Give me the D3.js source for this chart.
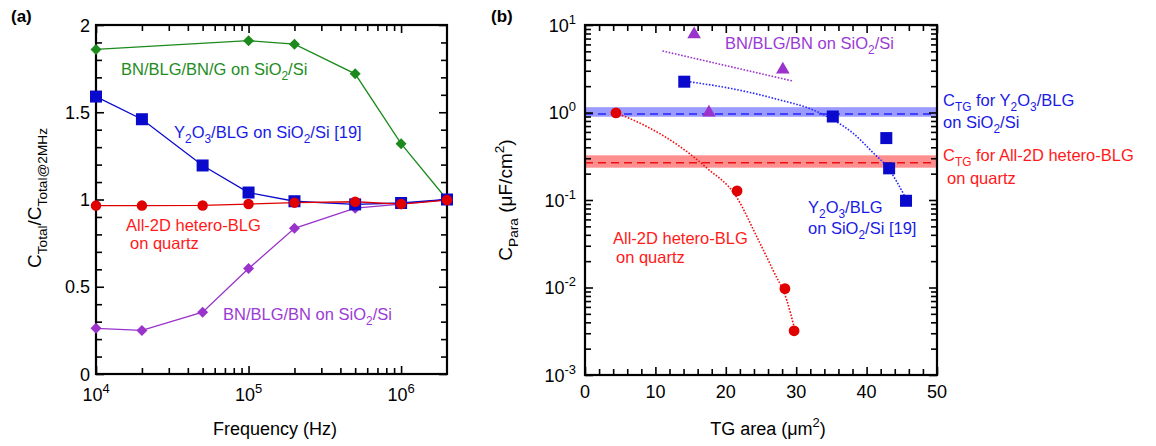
<!DOCTYPE html>
<html>
<head>
<meta charset="utf-8">
<script src="https://cdn.jsdelivr.net/npm/d3@7"></script>
<style>
  html, body { margin: 0; padding: 0; background: #fff; }
  svg { display: block; font-family: "Liberation Sans", Arial, Helvetica, sans-serif; }
</style>
</head>
<body>
<svg id="fig" width="1156" height="446"></svg>
<script>
// ---------- Panel (a): normalised total capacitance vs frequency ----------
const freqs      = [1e4, 2e4, 5e4, 1e5, 2e5, 5e5, 1e6, 2e6];
const freqsGreen = [1e4, 1e5, 2e5, 5e5, 1e6, 2e6];
const ratioBnBlgBnG = [1.86, 1.91, 1.89, 1.72, 1.32, 1.0];
const ratioY2o3Blg  = [1.59, 1.46, 1.195, 1.04, 0.99, 0.972, 0.98, 1.0];
const ratioAll2d    = [0.965, 0.965, 0.966, 0.974, 0.982, 0.987, 0.974, 0.997];
const ratioBnBlgBn  = [0.262, 0.25, 0.354, 0.604, 0.835, 0.95, 0.974, 1.0];
const freqTickExps  = [4, 5, 6];
const ratioTicks    = [0, 0.5, 1, 1.5, 2];
const ratioTickText = ["0", "0.5", "1", "1.5", "2"];

// ---------- Panel (b): parasitic capacitance vs top-gate area ----------
const areaBnBlgBn = [15.5, 28.1, 17.6];
const cparaBnBlgBn = [7.8, 3.1, 1.0];
const areaY2o3 = [14.1, 35.2, 42.8, 43.2, 45.6];
const cparaY2o3 = [2.25, 0.9, 0.51, 0.23, 0.098];
const areaAll2d = [4.4, 21.6, 28.4, 29.7];
const cparaAll2d = [0.99, 0.127, 0.0097, 0.0032];

// trend curves (dotted)
const trendBnX = [11.0, 29.5];
const trendBnY = [5.05, 2.29];
const trendY2o3X = [14.0, 20.6, 27.7, 32.4, 35.3, 38.1, 41.0, 42.9, 45.7];
const trendY2o3Y = [2.29, 1.89, 1.39, 1.07, 0.82, 0.578, 0.342, 0.24, 0.1];
const trendAll2dX = [4.4, 8.8, 13.5, 17.3, 21.5, 24.4, 26.7, 28.65, 29.8];
const trendAll2dY = [0.99, 0.69, 0.407, 0.232, 0.109, 0.038, 0.0158, 0.0072, 0.0033];

// top-gate capacitance bands: [Y2O3/BLG, All-2D]
const ctgCenter = [0.96, 0.267];
const ctgLow    = [0.895, 0.234];
const ctgHigh   = [1.15, 0.324];

const areaTicks = [0, 10, 20, 30, 40, 50];
const cparaTickExps = [-3, -2, -1, 0, 1];

// ---------- colours ----------
const GREEN = "#1c8a1c", BLUE = "#0a0acc", RED = "#e00000", PURPLE = "#9a32cc";
const BLUE_TXT = "#1a1ae6", RED_TXT = "#ff1a1a", PURPLE_TXT = "#9b3ad6", GREEN_TXT = "#1e8c1e";

const svg = d3.select("#fig");

// writes text made of plain / subscript / superscript runs
function rich(g, x, y, parts, size, color, anchor, rotate) {
  const t = g.append("text")
    .attr("x", x).attr("y", y)
    .attr("font-size", size)
    .attr("fill", color)
    .attr("text-anchor", anchor || "start");
  if (rotate) t.attr("transform", `rotate(${rotate},${x},${y})`);
  let shift = 0;
  parts.forEach(p => {
    const [txt, mode] = Array.isArray(p) ? p : [p, ""];
    let target = 0, fs = size;
    if (mode === "sub") { target = size * 0.3; fs = size * 0.72; }
    if (mode === "sup") { target = -size * 0.42; fs = size * 0.72; }
    t.append("tspan")
      .attr("dy", target - shift)
      .attr("font-size", fs)
      .text(txt);
    shift = target;
  });
  return t;
}

// inward ticks on all four sides of a frame
function frameTicks(g, x, y, xMajor, xMinor, yMajor, yMinor, majLen, minLen) {
  const [x0, x1] = x.range(), [y0, y1] = y.range();
  const h = (vals, len) => {
    g.append("g").attr("transform", `translate(0,${y0})`)
      .call(d3.axisBottom(x).tickValues(vals).tickSize(-len).tickFormat(""));
    g.append("g").attr("transform", `translate(0,${y1})`)
      .call(d3.axisTop(x).tickValues(vals).tickSize(-len).tickFormat(""));
  };
  const v = (vals, len) => {
    g.append("g").attr("transform", `translate(${x0},0)`)
      .call(d3.axisLeft(y).tickValues(vals).tickSize(-len).tickFormat(""));
    g.append("g").attr("transform", `translate(${x1},0)`)
      .call(d3.axisRight(y).tickValues(vals).tickSize(-len).tickFormat(""));
  };
  h(xMajor, majLen); h(xMinor, minLen); v(yMajor, majLen); v(yMinor, minLen);
  g.selectAll(".domain").remove();
  g.selectAll(".tick line").attr("stroke", "#000").attr("stroke-width", 1.6);
  g.append("rect")
    .attr("x", x0).attr("y", y1).attr("width", x1 - x0).attr("height", y0 - y1)
    .attr("fill", "none").attr("stroke", "#000").attr("stroke-width", 2.2);
}

const TICK_FS = 18, TITLE_FS = 18, NOTE_FS = 16.5;

// ======================= Panel (a) =======================
{
  const g = svg.append("g");
  const x = d3.scaleLog().domain([1e4, 2e6]).range([96, 447]);
  const y = d3.scaleLinear().domain([0, 2]).range([374, 25]);

  // minor ticks
  const xMinor = [];
  for (let e = 4; e <= 6; e++) for (let m = 2; m <= 9; m++) { const v = m * Math.pow(10, e); if (v < 2e6) xMinor.push(v); }
  const yMinor = d3.range(0, 2.0001, 0.1).filter(v => Math.abs(v * 2 - Math.round(v * 2)) > 1e-6);
  frameTicks(g, x, y, freqTickExps.map(e => Math.pow(10, e)), xMinor, ratioTicks, yMinor, 8, 6);

  // tick labels
  ratioTicks.forEach((v, i) => {
    g.append("text").attr("x", 90).attr("y", y(v) + 6.5)
      .attr("text-anchor", "end").attr("font-size", TICK_FS).text(ratioTickText[i]);
  });
  freqTickExps.forEach(e => {
    rich(g, x(Math.pow(10, e)), 401, ["10", [String(e), "sup"]], TICK_FS, "#000", "middle");
  });

  // axis titles
  rich(g, 275, 435, ["Frequency (Hz)"], TITLE_FS, "#000", "middle");
  rich(g, 41, 198, ["C", ["Total", "sub"], "/C", ["Total@2MHz", "sub"]], TITLE_FS + 1, "#000", "middle", -90);

  const line = d3.line().x(d => x(d[0])).y(d => y(d[1]));

  const series = [
    { xs: freqsGreen, ys: ratioBnBlgBnG, color: GREEN, shape: "diamond", size: 11 },
    { xs: freqs, ys: ratioBnBlgBn, color: PURPLE, shape: "diamond", size: 11 },
    { xs: freqs, ys: ratioY2o3Blg, color: BLUE, shape: "square", size: 12 },
    { xs: freqs, ys: ratioAll2d, color: RED, shape: "circle", size: 10.5 },
  ];
  series.forEach(s => {
    const pts = s.xs.map((v, i) => [v, s.ys[i]]);
    g.append("path").datum(pts).attr("d", line)
      .attr("fill", "none").attr("stroke", s.color).attr("stroke-width", 1.3);
  });
  series.forEach(s => {
    const pts = s.xs.map((v, i) => [v, s.ys[i]]);
    const mk = g.append("g").attr("fill", s.color);
    pts.forEach(p => {
      const cx = x(p[0]), cy = y(p[1]), r = s.size / 2;
      if (s.shape === "circle") mk.append("circle").attr("cx", cx).attr("cy", cy).attr("r", r);
      else if (s.shape === "square") mk.append("rect").attr("x", cx - r).attr("y", cy - r).attr("width", s.size).attr("height", s.size);
      else mk.append("path").attr("d", `M${cx},${cy - r}L${cx + r},${cy}L${cx},${cy + r}L${cx - r},${cy}Z`);
    });
  });

  // series annotations
  rich(g, 121, 75, ["BN/BLG/BN/G on SiO", ["2", "sub"], "/Si"], NOTE_FS, GREEN_TXT);
  rich(g, 174, 138, ["Y", ["2", "sub"], "O", ["3", "sub"], "/BLG on SiO", ["2", "sub"], "/Si [19]"], NOTE_FS, BLUE_TXT);
  rich(g, 126, 231, ["All-2D hetero-BLG"], NOTE_FS, RED_TXT);
  rich(g, 130, 249, ["on quartz"], NOTE_FS, RED_TXT);
  rich(g, 223, 320, ["BN/BLG/BN on SiO", ["2", "sub"], "/Si"], NOTE_FS, PURPLE_TXT);

  g.append("text").attr("x", 11).attr("y", 22).attr("font-size", 17).attr("font-weight", "bold").text("(a)");
}

// ======================= Panel (b) =======================
{
  const g = svg.append("g");
  const x = d3.scaleLinear().domain([0, 50]).range([585, 937]);
  const y = d3.scaleLog().domain([1e-3, 1e1]).range([375, 25]);

  // bands behind everything
  ctgCenter.forEach((c, i) => {
    g.append("rect")
      .attr("x", x(0)).attr("width", x(50) - x(0))
      .attr("y", y(ctgHigh[i])).attr("height", y(ctgLow[i]) - y(ctgHigh[i]))
      .attr("fill", i === 0 ? "#9a9aff" : "#ff8f8f");
    g.append("line")
      .attr("x1", x(0)).attr("x2", x(50)).attr("y1", y(c)).attr("y2", y(c))
      .attr("stroke", i === 0 ? "#2424ff" : "#ee1010")
      .attr("stroke-width", 1.6).attr("stroke-dasharray", "8,5");
  });

  const xMinor = d3.range(0, 50, 2).filter(v => v % 10 !== 0);
  const yMinor = [];
  for (let e = -3; e < 1; e++) for (let m = 2; m <= 9; m++) yMinor.push(m * Math.pow(10, e));
  frameTicks(g, x, y, areaTicks, xMinor, cparaTickExps.map(e => Math.pow(10, e)), yMinor, 8, 6);

  areaTicks.forEach(v => {
    g.append("text").attr("x", x(v)).attr("y", 398).attr("text-anchor", "middle")
      .attr("font-size", TICK_FS).text(v);
  });
  cparaTickExps.forEach(e => {
    rich(g, 576, y(Math.pow(10, e)) + 6.5, ["10", [String(e), "sup"]], TICK_FS, "#000", "end");
  });

  rich(g, 768, 435, ["TG area (μm", ["2", "sup"], ")"], TITLE_FS, "#000", "middle");
  rich(g, 512, 200, ["C", ["Para", "sub"], " (μF/cm", ["2", "sup"], ")"], TITLE_FS + 1, "#000", "middle", -90);

  // dotted trend curves
  const curve = d3.line().x(d => x(d[0])).y(d => y(d[1])).curve(d3.curveMonotoneX);
  [[trendBnX, trendBnY, PURPLE], [trendY2o3X, trendY2o3Y, "#2a2aff"], [trendAll2dX, trendAll2dY, "#f01010"]]
    .forEach(([xs, ys, col]) => {
      g.append("path").datum(xs.map((v, i) => [v, ys[i]])).attr("d", curve)
        .attr("fill", "none").attr("stroke", col).attr("stroke-width", 1.6)
        .attr("stroke-dasharray", "1.6,1.6");
    });

  // markers
  areaAll2d.forEach((v, i) => {
    g.append("circle").attr("cx", x(v)).attr("cy", y(cparaAll2d[i])).attr("r", 5.4).attr("fill", RED);
  });
  areaY2o3.forEach((v, i) => {
    const cx = x(v), cy = y(cparaY2o3[i]);
    g.append("rect").attr("x", cx - 6).attr("y", cy - 6).attr("width", 12).attr("height", 12).attr("fill", BLUE);
  });
  const tri = d3.symbol().type(d3.symbolTriangle).size(80);
  areaBnBlgBn.forEach((v, i) => {
    g.append("path").attr("d", tri)
      .attr("transform", `translate(${x(v)},${y(cparaBnBlgBn[i])})`).attr("fill", PURPLE);
  });

  // annotations
  rich(g, 725, 49, ["BN/BLG/BN on SiO", ["2", "sub"], "/Si"], NOTE_FS, PURPLE_TXT);
  rich(g, 808, 213, ["Y", ["2", "sub"], "O", ["3", "sub"], "/BLG"], NOTE_FS, BLUE_TXT);
  rich(g, 808, 234, ["on SiO", ["2", "sub"], "/Si [19]"], NOTE_FS, BLUE_TXT);
  rich(g, 613, 244, ["All-2D hetero-BLG"], NOTE_FS, RED_TXT);
  rich(g, 616, 263, ["on quartz"], NOTE_FS, RED_TXT);

  rich(g, 943, 106, ["C", ["TG", "sub"], " for Y", ["2", "sub"], "O", ["3", "sub"], "/BLG"], NOTE_FS, BLUE_TXT);
  rich(g, 943, 128, ["on SiO", ["2", "sub"], "/Si"], NOTE_FS, BLUE_TXT);
  rich(g, 943, 161, ["C", ["TG", "sub"], " for All-2D hetero-BLG"], NOTE_FS, RED_TXT);
  rich(g, 947, 184, ["on quartz"], NOTE_FS, RED_TXT);

  g.append("text").attr("x", 491).attr("y", 22).attr("font-size", 17).attr("font-weight", "bold").text("(b)");
}
</script>
</body>
</html>
